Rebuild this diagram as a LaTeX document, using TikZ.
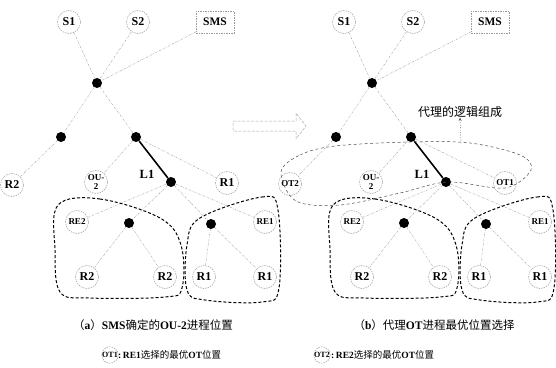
\documentclass[tikz,border=0pt]{standalone}
\usepackage{fontspec}
\setmainfont{Liberation Serif}
\newfontfamily\cjk{Noto Sans CJK SC}
\usetikzlibrary{arrows.meta}
\tikzset{
  nd/.style={circle, draw=gray!80, line width=0.5pt, dash pattern=on 1.5pt off 1pt, minimum size=23pt, inner sep=0pt, font=\bfseries\fontsize{12}{12}\selectfont},
  nds/.style={nd, font=\bfseries\fontsize{9}{9}\selectfont},
  ndl/.style={nd, minimum size=16pt, font=\bfseries\fontsize{8}{8}\selectfont},
  boxnd/.style={draw=gray!80, line width=0.5pt, dash pattern=on 1.5pt off 1pt, minimum width=38pt, minimum height=22pt, inner sep=0pt, font=\bfseries\fontsize{11.5}{11.5}\selectfont},
  jn/.style={circle, fill=black, minimum size=10pt, inner sep=0pt},
  ed/.style={draw=gray!75, line width=0.4pt, dash pattern=on 2pt off 1.2pt on 0.5pt off 1.2pt},
  lp/.style={draw=black, line width=1pt, dash pattern=on 3pt off 2pt},
  thk/.style={draw=black, line width=1.6pt},
  lbl/.style={font=\bfseries\fontsize{12.5}{12.5}\selectfont, inner sep=0pt},
  captxt/.style={font=\fontsize{11.5}{11.5}\selectfont, inner sep=0pt},
  leg/.style={font=\fontsize{9.5}{9.5}\selectfont, inner sep=0pt, anchor=west}
}
\begin{document}
\begin{tikzpicture}[x=1pt,y=-1pt]
\useasboundingbox (0,0) rectangle (556,367);
\foreach \p/\dx in {a/0,b/275}{
\begin{scope}[xshift=\dx pt]
  \node[nd] (\p S1) at (69,22) {S1};
  \node[nd] (\p S2) at (138,22) {S2};
  \node[boxnd] (\p SMS) at (215,22) {SMS};
  \node[jn] (\p J0) at (97,83) {};
  \node[jn] (\p J1) at (61,137) {};
  \node[jn] (\p J2) at (136,137) {};
  \node[nd, align=center, font=\bfseries\fontsize{9}{9.5}\selectfont] (\p OU) at (96,182) {OU-\\2};
  \node[jn] (\p J3) at (171,182) {};
  \node[lbl] (\p L1) at (147,174) {L1};
  \node[nds] (\p RE2) at (77,222) {RE2};
  \node[nds] (\p RE1) at (265,222) {RE1};
  \node[jn] (\p J4) at (129,223) {};
  \node[jn] (\p J5) at (211,224) {};
  \node[nd] (\p R2a) at (87,277) {R2};
  \node[nd] (\p R2b) at (165,277) {R2};
  \node[nd] (\p R1a) at (204,277) {R1};
  \node[nd] (\p R1b) at (265,277) {R1};
  \draw[ed] (\p S1) -- (\p J0);
  \draw[ed] (\p S2) -- (\p J0);
  \draw[ed] (\p SMS) -- (\p J0);
  \draw[ed] (\p J0) -- (\p J1);
  \draw[ed] (\p J0) -- (\p J2);
  \draw[ed] (\p J2) -- (\p OU);
  \draw[thk] (\p J2) -- (\p J3);
  \draw[ed] (\p J3) -- (\p RE2);
  \draw[ed] (\p J3) -- (\p RE1);
  \draw[ed] (\p J3) -- (\p J4);
  \draw[ed] (\p J3) -- (\p J5);
  \draw[ed] (\p J4) -- (\p R2a);
  \draw[ed] (\p J4) -- (\p R2b);
  \draw[ed] (\p J5) -- (\p R1a);
  \draw[ed] (\p J5) -- (\p R1b);
  \draw[lp] plot[smooth cycle, tension=0.6] coordinates {(58,205) (100,199) (160,218) (181,245) (182,288) (165,297) (90,298) (60,292) (55,250)};
  \draw[lp] plot[smooth cycle, tension=0.6] coordinates {(200,218) (262,197) (278,210) (279,288) (262,302) (205,300) (187,290) (187,245)};
\end{scope}
}
% left panel second row
\node[nd] (aR2) at (12,185) {R2};
\node[nd] (aR1) at (227,183) {R1};
\draw[ed] (aJ1) -- (aR2);
\draw[ed] (aJ2) -- (aR1);
% right panel second row
\node[nds] (bOT2) at (290,184) {OT2};
\node[nds] (bOT1) at (505,183) {OT1};
\draw[ed] (bJ1) -- (bOT2);
\draw[ed] (bJ2) -- (bOT1);
% logical composition loop
\draw[draw=gray!60!black, line width=0.5pt, dash pattern=on 3pt off 2.5pt] plot[smooth cycle, tension=0.55] coordinates {(281,172) (300,155) (335,146) (410,142) (470,143) (520,155) (531,170) (505,188) (448,182) (400,193) (340,205) (296,201)};
\coordinate (ellTop) at (461,143);
\node[captxt, font=\cjk\fontsize{12}{12}\selectfont] (lgc) at (460,112) {代理的逻辑组成};
\draw[gray!70!black, line width=0.4pt, dash pattern=on 1pt off 1.5pt, -{Stealth[length=3pt,width=3pt]}] (ellTop) -- (lgc.south);
% transition arrow
\draw[gray!70, line width=0.5pt, dash pattern=on 3pt off 1.5pt] (233,121) -- (296,121) -- (296,113) -- (306,126) -- (296,139) -- (296,131) -- (233,131) -- cycle;
% captions
\node[captxt] (capa) at (153,325) {{\cjk （}\textbf{a}{\cjk ）}\textbf{SMS}{\cjk 确定的}\textbf{OU-2}{\cjk 进程位置}};
\node[captxt] (capb) at (434,325) {{\cjk （}\textbf{b}{\cjk ）代理}\textbf{OT}{\cjk 进程最优位置选择}};
% legend
\node[ndl] (lg1) at (110,355) {OT1};
\node[leg] (lt1) at (118,355) {\textbf{:\,RE1}{\cjk 选择的最优}\textbf{OT}{\cjk 位置}};
\node[ndl] (lg2) at (322,355) {OT2};
\node[leg] (lt2) at (331,355) {\textbf{:\,RE2}{\cjk 选择的最优}\textbf{OT}{\cjk 位置}};
\end{tikzpicture}
\end{document}
